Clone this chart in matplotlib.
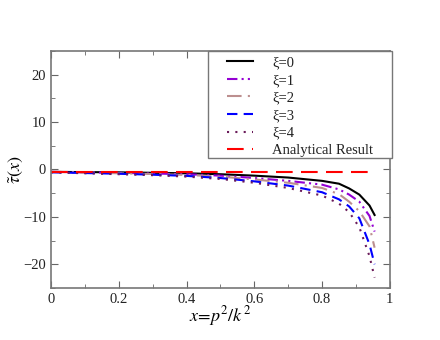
import numpy as np
import matplotlib
matplotlib.use("Agg")
import matplotlib.pyplot as plt
from matplotlib.ticker import MultipleLocator
from matplotlib.patches import Rectangle

plt.rcParams['font.family'] = ['Liberation Serif', 'DejaVu Serif']
plt.rcParams['mathtext.fontset'] = 'stix'

# data
x = [0, 0.1, 0.2, 0.3, 0.4, 0.5, 0.6, 0.7, 0.8, 0.85, 0.88, 0.91, 0.94, 0.955]
xi0 = [-0.5, -0.55, -0.6, -0.7, -0.8, -1.0, -1.3, -1.7, -2.4, -3.0, -4.0, -5.3, -7.6, -9.6]
xi1 = [-0.5, -0.6, -0.7, -0.85, -1.0, -1.3, -1.8, -2.4, -3.2, -4.2, -5.3, -6.8, -9.8, -13.1]
xi2 = [-0.5, -0.65, -0.8, -0.95, -1.15, -1.5, -2.1, -2.8, -3.9, -5.2, -6.8, -8.8, -12.0, -16.5]
xi3 = [-0.6, -0.75, -0.9, -1.1, -1.35, -1.8, -2.5, -3.4, -4.8, -6.3, -7.8, -10.3, -15.8, -20.0]
xi4 = [-0.6, -0.8, -1.0, -1.2, -1.5, -2.0, -2.8, -3.9, -5.5, -7.2, -9.0, -12.2, -18.3, -22.8]
x_an = [0, 0.955]
analytic = [-0.5, -0.5]

labels = ['\u03be=0', '\u03be=1', '\u03be=2', '\u03be=3', '\u03be=4', 'Analytical Result']

fig = plt.figure(figsize=(4.4, 3.4), dpi=100)
ax = fig.add_axes([0.116, 0.153, 0.770, 0.697])

ax.plot(x, xi0, color='black', lw=1.5, label=labels[0])
ax.plot(x, xi1, color='#9400d3', lw=1.5, dashes=(5, 2, 1, 2, 1, 2), label=labels[1])
ax.plot(x, xi2, color='#bc8f8f', lw=1.5, dashes=(7, 3, 1, 3), label=labels[2])
ax.plot(x, xi3, color='#0000ff', lw=1.5, dashes=(5, 3), label=labels[3])
ax.plot(x, xi4, color='#6a1b5a', lw=1.5, dashes=(1, 3), label=labels[4])
ax.plot(x_an, analytic, color='#ff0000', lw=1.5, dashes=(8, 4), label=labels[5])

ax.set_xlim(0, 1)
ax.set_ylim(-25, 25)
ax.xaxis.set_major_locator(MultipleLocator(0.2))
ax.xaxis.set_minor_locator(MultipleLocator(0.1))
ax.yaxis.set_major_locator(MultipleLocator(10))
ax.yaxis.set_minor_locator(MultipleLocator(5))
ax.xaxis.set_major_formatter(plt.FuncFormatter(lambda v, p: '%g' % round(v, 1)))
ax.tick_params(which='both', direction='in', top=True, right=True, color='#666666',
               labelsize=10.5, labelcolor='#222222')
ax.tick_params(which='major', length=5)
ax.tick_params(which='minor', length=3)
for s in ax.spines.values():
    s.set_color('#777777')
    s.set_linewidth(1.2)

ax.set_xlabel(r'$x\!=\!p^2/k^2$', fontsize=13, labelpad=-1)
ax.set_ylabel(r'$\tilde{\tau}(x)$', fontsize=13)
ax.yaxis.set_label_coords(-0.077, 0.5)

# legend: entries without own frame, plus a box with the wide side padding of the original
leg = ax.legend(loc='upper left', bbox_to_anchor=(0.519, 0.978), borderaxespad=0,
                fontsize=10.5, handlelength=1.8, handletextpad=1.3, labelspacing=0.3,
                frameon=False, borderpad=0)
for t in leg.get_texts():
    t.set_color('#222222')
box = Rectangle((0.463, 0.549), 0.543, 0.451, transform=ax.transAxes, fill=True,
                facecolor='white', edgecolor='#777777', lw=1.0, clip_on=False, zorder=4)
ax.add_patch(box)
leg.set_zorder(5)

fig.savefig('out.png', dpi=100)
